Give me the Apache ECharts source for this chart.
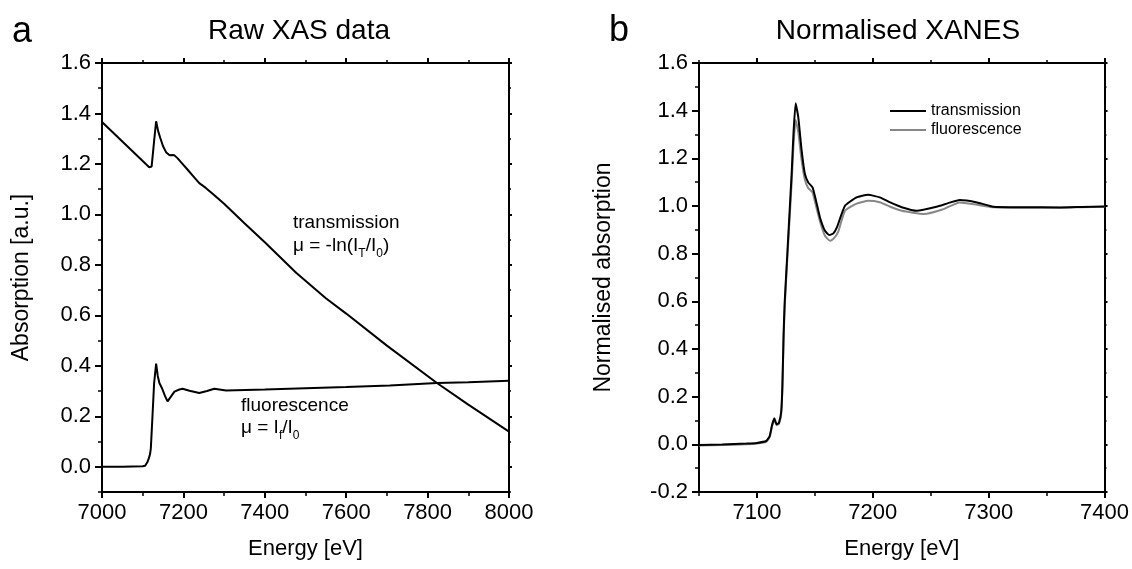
<!DOCTYPE html>
<html><head><meta charset="utf-8">
<script src="https://cdn.jsdelivr.net/npm/echarts@6/dist/echarts.min.js"></script>
<style>html,body{margin:0;padding:0;background:#fff}#c{width:1132px;height:569px}</style>
</head><body><div id="c"></div>
<script>
// ---- Panel a: raw XAS data ----
const rawEnergyT = [7000, 7050, 7100, 7116, 7122, 7128, 7133, 7138, 7143, 7150, 7158, 7166, 7172, 7178, 7186, 7194, 7210, 7225, 7239, 7255, 7274, 7300, 7350, 7400, 7477, 7550, 7600, 7700, 7823, 7900, 8000];
const rawTrans   = [1.366, 1.289, 1.212, 1.187, 1.19, 1.29, 1.369, 1.33, 1.304, 1.27, 1.245, 1.234, 1.235, 1.234, 1.222, 1.207, 1.178, 1.15, 1.124, 1.105, 1.079, 1.042, 0.965, 0.89, 0.769, 0.668, 0.607, 0.48, 0.332, 0.246, 0.139];
const rawEnergyF = [7000, 7050, 7100, 7106, 7112, 7115, 7118, 7120, 7124, 7128, 7133, 7137, 7141, 7148, 7155, 7161, 7168, 7178, 7190, 7198, 7215, 7239, 7258, 7276, 7305, 7400, 7500, 7600, 7707, 7823, 7900, 8000];
const rawFluo    = [0.0, 0.0, 0.002, 0.004, 0.02, 0.033, 0.05, 0.073, 0.2, 0.33, 0.409, 0.36, 0.332, 0.309, 0.28, 0.259, 0.275, 0.298, 0.306, 0.309, 0.301, 0.292, 0.3, 0.309, 0.302, 0.306, 0.311, 0.316, 0.322, 0.332, 0.335, 0.341];
const rawXTicks = [7000, 7200, 7400, 7600, 7800, 8000];
const rawXMinor = [7100, 7300, 7500, 7700, 7900];
const rawYTicks = [0, 0.2, 0.4, 0.6, 0.8, 1.0, 1.2, 1.4, 1.6];
const rawYMinor = [-0.1, 0.1, 0.3, 0.5, 0.7, 0.9, 1.1, 1.3, 1.5];

// ---- Panel b: normalised XANES ----
const xanesEnergyT = [7050, 7070, 7091, 7100, 7108, 7111, 7113, 7115, 7117, 7119, 7121, 7122, 7123, 7124, 7126, 7128, 7130, 7131.5, 7133.4, 7135.7, 7138.6, 7141.4, 7144.3, 7148, 7151, 7154.4, 7158.7, 7162.5, 7166, 7169, 7176, 7186, 7196, 7206, 7215, 7225, 7238, 7255, 7265, 7275, 7290, 7304, 7330, 7362, 7380, 7400];
const xanesTrans   = [-0.003, -0.001, 0.003, 0.006, 0.014, 0.035, 0.08, 0.109, 0.084, 0.09, 0.14, 0.25, 0.46, 0.6, 0.78, 0.96, 1.14, 1.30, 1.431, 1.372, 1.232, 1.134, 1.099, 1.078, 1.022, 0.952, 0.896, 0.878, 0.885, 0.91, 1.001, 1.036, 1.047, 1.036, 1.015, 0.995, 0.98, 0.997, 1.012, 1.025, 1.015, 0.997, 0.995, 0.994, 0.996, 0.998];
const xanesEnergyF = [7050, 7070, 7091, 7100, 7108, 7111, 7113, 7115, 7117, 7119, 7121, 7122, 7123, 7124, 7126, 7128, 7130, 7131.5, 7133.4, 7135.7, 7138.6, 7141.4, 7144.3, 7148, 7151, 7154.4, 7158.7, 7163, 7166, 7170, 7176, 7186, 7196, 7206, 7215, 7225, 7244, 7260, 7275, 7290, 7304, 7330, 7362, 7380, 7400];
const xanesFluo    = [-0.005, -0.003, 0.0, 0.003, 0.01, 0.03, 0.075, 0.102, 0.08, 0.086, 0.13, 0.24, 0.44, 0.58, 0.76, 0.93, 1.1, 1.25, 1.361, 1.31, 1.19, 1.11, 1.075, 1.057, 1.0, 0.935, 0.875, 0.854, 0.862, 0.89, 0.98, 1.01, 1.022, 1.016, 0.997, 0.98, 0.966, 0.985, 1.015, 1.005, 0.995, 0.993, 0.993, 0.995, 0.997];
const xanesXTicks = [7100, 7200, 7300, 7400];
const xanesXMinor = [7050, 7150, 7250, 7350];
const xanesYTicks = [-0.2, 0, 0.2, 0.4, 0.6, 0.8, 1.0, 1.2, 1.4, 1.6];
const xanesYMinor = [-0.1, 0.1, 0.3, 0.5, 0.7, 0.9, 1.1, 1.3, 1.5];

const FONT = '"Liberation Sans", Arial, sans-serif';

function axes(dim, grid, pos, min, max, majors, minors, o) {
  const isX = dim === 'x';
  const major = {
    type: 'value', gridIndex: grid, position: pos, min: min, max: max,
    axisLine: { show: true, onZero: false, lineStyle: { color: '#000', width: 2 } },
    axisTick: { show: true, inside: false, length: o.majorLen, customValues: majors, lineStyle: { color: '#000', width: 2 } },
    axisLabel: {
      show: !!o.labels, customValues: majors, margin: o.margin || 10,
      fontSize: 22, color: '#000', fontFamily: FONT,
      formatter: function (v) { return isX ? String(Math.round(v)) : (Math.round(v * 10) / 10).toFixed(1); }
    },
    splitLine: { show: false }
  };
  if (o.name) {
    major.name = o.name; major.nameLocation = 'middle'; major.nameGap = o.nameGap;
    major.nameTextStyle = { fontSize: o.nameSize || 22, color: '#000', fontFamily: FONT };
  }
  const minor = {
    type: 'value', gridIndex: grid, position: pos, min: min, max: max,
    axisLine: { show: false, onZero: false },
    axisTick: { show: true, inside: false, length: o.minorLen, customValues: minors, lineStyle: { color: '#000', width: 1.5 } },
    axisLabel: { show: false },
    splitLine: { show: false }
  };
  return [major, minor];
}

const xAxes = [].concat(
  axes('x', 0, 'bottom', 7000, 8000, rawXTicks, rawXMinor, { labels: true, majorLen: 6, minorLen: 4, margin: 10, name: 'Energy [eV]', nameGap: 46 }),
  axes('x', 0, 'top', 7000, 8000, rawXTicks, rawXMinor, { majorLen: 5, minorLen: 3 }),
  axes('x', 1, 'bottom', 7050, 7400, xanesXTicks, xanesXMinor, { labels: true, majorLen: 6, minorLen: 4, margin: 10, name: 'Energy [eV]', nameGap: 46 }),
  axes('x', 1, 'top', 7050, 7400, xanesXTicks, xanesXMinor, { majorLen: 5, minorLen: 3 })
);
const yAxes = [].concat(
  axes('y', 0, 'left', -0.1, 1.6, rawYTicks, rawYMinor, { labels: true, majorLen: 7, minorLen: 4, margin: 11, name: 'Absorption [a.u.]', nameGap: 69, nameSize: 23 }),
  axes('y', 0, 'right', -0.1, 1.6, rawYTicks, rawYMinor, { majorLen: 3, minorLen: 2 }),
  axes('y', 1, 'left', -0.2, 1.6, xanesYTicks, xanesYMinor, { labels: true, majorLen: 7, minorLen: 4, margin: 11, name: 'Normalised absorption', nameGap: 84, nameSize: 23 }),
  axes('y', 1, 'right', -0.2, 1.6, xanesYTicks, xanesYMinor, { majorLen: 3, minorLen: 2 })
);

function pairs(xs, ys) { return xs.map(function (x, i) { return [x, ys[i]]; }); }
function line(name, xi, yi, data, color, smooth) {
  return {
    name: name, type: 'line', xAxisIndex: xi, yAxisIndex: yi, data: data,
    symbol: 'none', showSymbol: false, smooth: smooth,
    lineStyle: { color: color, width: 2 }, itemStyle: { color: color }, animation: false, z: 3
  };
}

const chart = echarts.init(document.getElementById('c'), null, { renderer: 'canvas' });
chart.setOption({
  animation: false,
  backgroundColor: '#fff',
  textStyle: { fontFamily: FONT },
  grid: [
    { left: 102, top: 63, width: 407, height: 429, containLabel: false },
    { left: 699, top: 63, width: 406, height: 429, containLabel: false }
  ],
  title: [
    { text: 'a', left: 7, top: 9, textStyle: { fontSize: 36, fontWeight: 'normal', color: '#000', fontFamily: FONT } },
    { text: 'Raw XAS data', left: 294, top: 12, textAlign: 'center', textStyle: { fontSize: 28, fontWeight: 'normal', color: '#000', fontFamily: FONT } },
    { text: 'b', left: 604, top: 8, textStyle: { fontSize: 36, fontWeight: 'normal', color: '#000', fontFamily: FONT } },
    { text: 'Normalised XANES', left: 893, top: 12, textAlign: 'center', textStyle: { fontSize: 28, fontWeight: 'normal', color: '#000', fontFamily: FONT } }
  ],
  legend: {
    data: [{ name: 'transmission', icon: 'rect' }, { name: 'fluorescence', icon: 'rect' }],
    left: 890, top: 103, orient: 'vertical', padding: 0,
    itemWidth: 36, itemHeight: 2, itemGap: 3,
    textStyle: { fontSize: 16, color: '#000', fontFamily: FONT }
  },
  xAxis: xAxes,
  yAxis: yAxes,
  graphic: [
    { type: 'text', left: 293, top: 213, style: { text: 'transmission', fontSize: 19, fill: '#000', fontFamily: FONT } },
    { type: 'text', left: 293, top: 236, style: {
      text: '{n|μ = -ln(I}{s|T}{n|/I}{s|0}{n|)}', fill: '#000',
      rich: { n: { fontSize: 19, lineHeight: 28, verticalAlign: 'middle', fontFamily: FONT }, s: { fontSize: 12, lineHeight: 28, verticalAlign: 'bottom', fontFamily: FONT } } } },
    { type: 'text', left: 241, top: 396, style: { text: 'fluorescence', fontSize: 19, fill: '#000', fontFamily: FONT } },
    { type: 'text', left: 241, top: 418, style: {
      text: '{n|μ = I}{s|f}{n|/I}{s|0}', fill: '#000',
      rich: { n: { fontSize: 19, lineHeight: 28, verticalAlign: 'middle', fontFamily: FONT }, s: { fontSize: 12, lineHeight: 28, verticalAlign: 'bottom', fontFamily: FONT } } } }
  ],
  series: [
    line('raw transmission', 0, 0, pairs(rawEnergyT, rawTrans), '#000', false),
    line('raw fluorescence', 0, 0, pairs(rawEnergyF, rawFluo), '#000', false),
    line('fluorescence', 4, 4, pairs(xanesEnergyF, xanesFluo), '#888888', 0.15),
    line('transmission', 4, 4, pairs(xanesEnergyT, xanesTrans), '#000', 0.15)
  ]
});
</script></body></html>
